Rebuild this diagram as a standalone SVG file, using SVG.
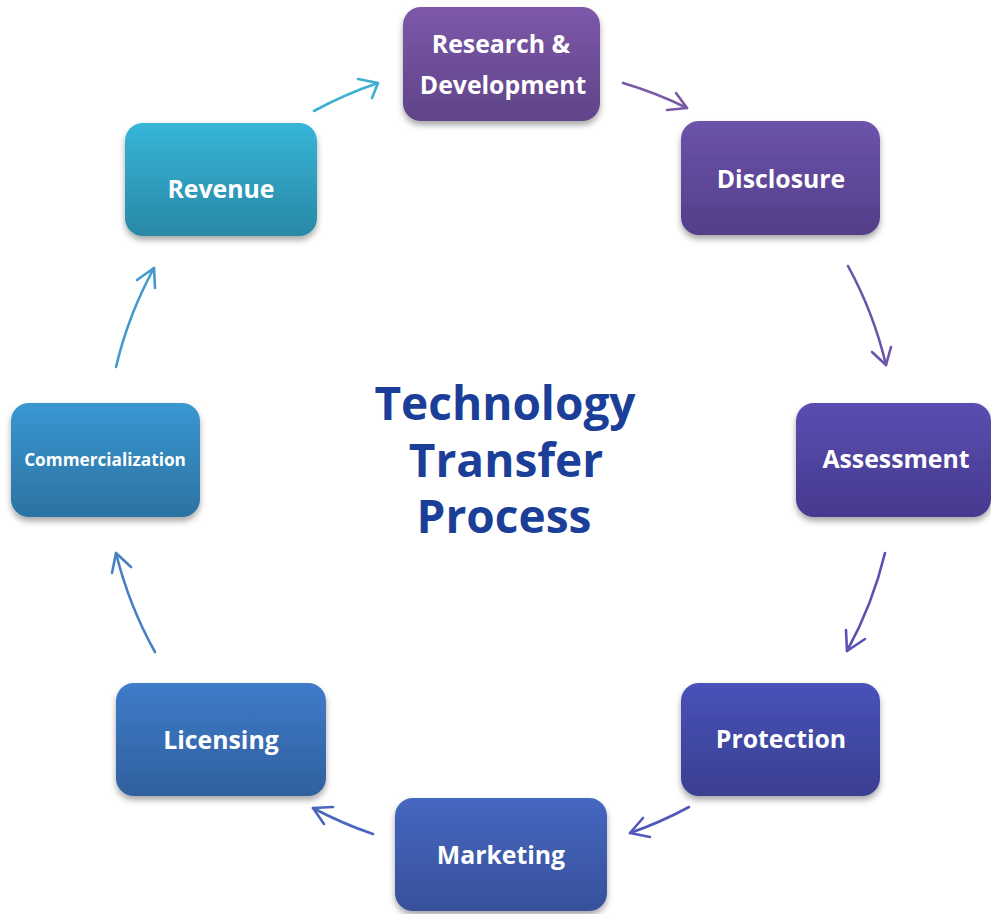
<svg xmlns="http://www.w3.org/2000/svg" width="991" height="914" viewBox="0 0 991 914">
  <style>
    .box { filter: url(#shadow); }
    .label { font-family: "Open Sans", "Noto Sans", "Liberation Sans", sans-serif; font-weight: 700; fill: #ffffff; text-anchor: middle; font-size: 24.8px; }
    .label.small { font-size: 17.2px; }
    .title { font-family: "Open Sans", "Noto Sans", "Liberation Sans", sans-serif; font-weight: 700; fill: #1b3f98; text-anchor: middle; font-size: 46px; }
    .link { fill: none; stroke-width: 2.6; stroke-linecap: round; stroke-linejoin: round; }
  </style>
  <defs>
    <filter id="shadow" x="-20%" y="-20%" width="140%" height="150%">
      <feDropShadow dx="0" dy="4" stdDeviation="3" flood-color="#000" flood-opacity="0.35"/>
    </filter>
    <linearGradient id="g-rd" x1="0" y1="0" x2="0" y2="1"><stop offset="0" stop-color="#7d58a9"/><stop offset="1" stop-color="#5f4488"/></linearGradient>
    <linearGradient id="g-dis" x1="0" y1="0" x2="0" y2="1"><stop offset="0" stop-color="#6c53ab"/><stop offset="1" stop-color="#533e88"/></linearGradient>
    <linearGradient id="g-ass" x1="0" y1="0" x2="0" y2="1"><stop offset="0" stop-color="#5a4eb1"/><stop offset="1" stop-color="#46398e"/></linearGradient>
    <linearGradient id="g-pro" x1="0" y1="0" x2="0" y2="1"><stop offset="0" stop-color="#4852b9"/><stop offset="1" stop-color="#3a3f90"/></linearGradient>
    <linearGradient id="g-mkt" x1="0" y1="0" x2="0" y2="1"><stop offset="0" stop-color="#4567c1"/><stop offset="1" stop-color="#37509a"/></linearGradient>
    <linearGradient id="g-lic" x1="0" y1="0" x2="0" y2="1"><stop offset="0" stop-color="#3f7bc9"/><stop offset="1" stop-color="#30609e"/></linearGradient>
    <linearGradient id="g-com" x1="0" y1="0" x2="0" y2="1"><stop offset="0" stop-color="#3a97d1"/><stop offset="1" stop-color="#2b72a2"/></linearGradient>
    <linearGradient id="g-rev" x1="0" y1="0" x2="0" y2="1"><stop offset="0" stop-color="#37b5d9"/><stop offset="1" stop-color="#2888a5"/></linearGradient>
  </defs>

  <rect width="991" height="914" fill="#ffffff"/>

  <!-- curved connectors around the cycle (arcs centred near 500,460) -->
  <g id="connectors">
    <g stroke="#7a5aa7">
      <path class="link" d="M623 83 A396 396 0 0 1 687 108"/>
      <polyline class="link" points="676,93 687,108 667,110"/>
    </g>
    <g stroke="#6b55a9">
      <path class="link" d="M848 266 A396 396 0 0 1 886 365"/>
      <polyline class="link" points="872,352 886,365 891,347"/>
    </g>
    <g stroke="#5b51b2">
      <path class="link" d="M885 553 A396 396 0 0 1 847 651"/>
      <polyline class="link" points="846,630 847,651 865,639"/>
    </g>
    <g stroke="#5258b9">
      <path class="link" d="M689 807 A396 396 0 0 1 630 833"/>
      <polyline class="link" points="643,818 630,833 650,837"/>
    </g>
    <g stroke="#4966bd">
      <path class="link" d="M373 834 A396 396 0 0 1 313 808"/>
      <polyline class="link" points="333,807 313,808 324,824"/>
    </g>
    <g stroke="#4880c3">
      <path class="link" d="M155 652 A396 396 0 0 1 116 553"/>
      <polyline class="link" points="112,573 116,553 131,567"/>
    </g>
    <g stroke="#4398cd">
      <path class="link" d="M116 367 A396 396 0 0 1 154 268"/>
      <polyline class="link" points="137,280 154,268 155,288"/>
    </g>
    <g stroke="#3bb0d0">
      <path class="link" d="M314 111 A396 396 0 0 1 378 83"/>
      <polyline class="link" points="358,79 378,83 372,98"/>
    </g>
  </g>

  <g id="node-research">
    <rect class="box" x="403" y="7" width="197" height="114" rx="18" fill="url(#g-rd)"/>
    <text class="label" x="501" y="53">Research &amp;</text>
    <text class="label" x="503" y="94">Development</text>
  </g>
  <g id="node-disclosure">
    <rect class="box" x="681" y="121" width="199" height="114" rx="18" fill="url(#g-dis)"/>
    <text class="label" x="781" y="188">Disclosure</text>
  </g>
  <g id="node-assessment">
    <rect class="box" x="796" y="403" width="195" height="114" rx="18" fill="url(#g-ass)"/>
    <text class="label" x="896" y="468">Assessment</text>
  </g>
  <g id="node-protection">
    <rect class="box" x="681" y="683" width="199" height="113" rx="18" fill="url(#g-pro)"/>
    <text class="label" x="781" y="748">Protection</text>
  </g>
  <g id="node-marketing">
    <rect class="box" x="395" y="798" width="212" height="113" rx="18" fill="url(#g-mkt)"/>
    <text class="label" x="501" y="864">Marketing</text>
  </g>
  <g id="node-licensing">
    <rect class="box" x="116" y="683" width="210" height="113" rx="18" fill="url(#g-lic)"/>
    <text class="label" x="221" y="749">Licensing</text>
  </g>
  <g id="node-commercialization">
    <rect class="box" x="11" y="403" width="189" height="114" rx="18" fill="url(#g-com)"/>
    <text class="label small" x="105" y="466">Commercialization</text>
  </g>
  <g id="node-revenue">
    <rect class="box" x="125" y="123" width="192" height="113" rx="18" fill="url(#g-rev)"/>
    <text class="label" x="221" y="198">Revenue</text>
  </g>

  <g id="title">
    <text class="title" x="505" y="420">Technology</text>
    <text class="title" x="506" y="477">Transfer</text>
    <text class="title" x="504" y="533">Process</text>
  </g>
</svg>
